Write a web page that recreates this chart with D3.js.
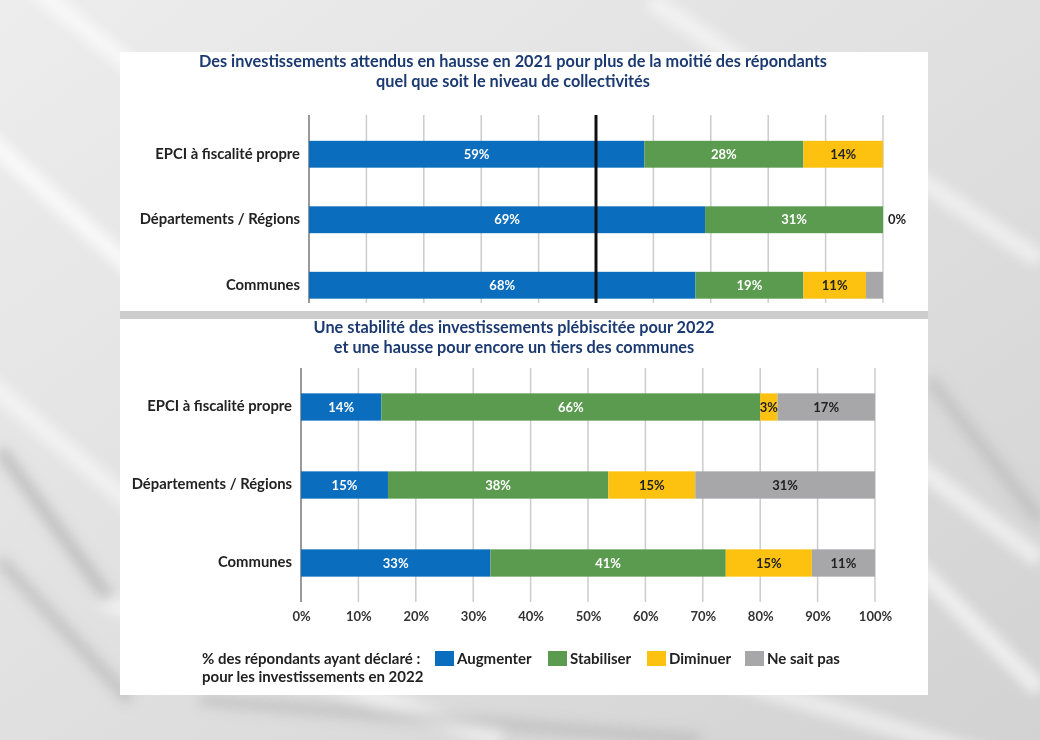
<!DOCTYPE html>
<html><head><meta charset="utf-8">
<script src="https://cdn.jsdelivr.net/npm/d3@7"></script>
<style>
html,body{margin:0;padding:0;}
body{width:1040px;height:740px;overflow:hidden;}
svg{display:block;}
</style></head>
<body>
<svg id="chart" width="1040" height="740"></svg>
<script>
// ---- DATA ----
const categories = ["EPCI à fiscalité propre", "Départements / Régions", "Communes"];
const seriesNames = ["Augmenter", "Stabiliser", "Diminuer", "Ne sait pas"];
// 2021 (top chart)
const augmenter2021 = [59, 69, 68];
const stabiliser2021 = [28, 31, 19];
const diminuer2021 = [14, 0, 11];
const nsp2021 = [0, 0, 3];
// 2022 (bottom chart)
const augmenter2022 = [14, 15, 33];
const stabiliser2022 = [66, 38, 41];
const diminuer2022 = [3, 15, 15];
const nsp2022 = [17, 31, 11];
const tickValues = [0, 10, 20, 30, 40, 50, 60, 70, 80, 90, 100];
const titleTop = ["Des investissements attendus en hausse en 2021 pour plus de la moitié des répondants", "quel que soit le niveau de collectivités"];
const titleBottom = ["Une stabilité des investissements plébiscitée pour 2022", "et une hausse pour encore un tiers des communes"];
const legendIntro = ["% des répondants ayant déclaré :", "pour les investissements en 2022"];

const colors = ["#0b6dbd", "#5a9b4f", "#fdc20f", "#a7a7a9"];
const labelColors = ["#ffffff", "#ffffff", "#222222", "#222222"];
const navy = "#1c3a72";

const svg = d3.select("#chart");

// ---- background (marble-ish) ----
const defs = svg.append("defs");
const bg = defs.append("linearGradient").attr("id","bg").attr("x1","0").attr("y1","0").attr("x2","1").attr("y2","1");
bg.append("stop").attr("offset","0%").attr("stop-color","#ededed");
bg.append("stop").attr("offset","50%").attr("stop-color","#e0e0e0");
bg.append("stop").attr("offset","100%").attr("stop-color","#d2d2d2");
defs.append("filter").attr("id","blur").append("feGaussianBlur").attr("stdDeviation", 6);
svg.append("rect").attr("width",1040).attr("height",740).attr("fill","url(#bg)");
const streaks = svg.append("g").attr("filter","url(#blur)");
const streakDefs = [[-100,60,300,420,0.7],[0,-40,420,300,0.6],[650,0,1040,260,0.5],[700,300,1040,560,0.55],[-50,350,150,520,0.5],[850,500,1040,690,0.6],[100,600,500,740,0.5],[600,640,1000,760,0.5]];
streakDefs.forEach(s=>{
  streaks.append("line").attr("x1",s[0]).attr("y1",s[1]).attr("x2",s[2]).attr("y2",s[3])
    .attr("stroke","#ffffff").attr("stroke-width",18).attr("opacity",s[4]);
});
const darks = [[0,450,110,600,0.35],[0,560,130,700,0.3],[930,380,1040,520,0.25],[200,700,700,740,0.25]];
darks.forEach(s=>{
  streaks.append("line").attr("x1",s[0]).attr("y1",s[1]).attr("x2",s[2]).attr("y2",s[3])
    .attr("stroke","#8a8a8a").attr("stroke-width",14).attr("opacity",s[4]);
});

// ---- white panel ----
svg.append("rect").attr("x",120).attr("y",52).attr("width",808).attr("height",643).attr("fill","#ffffff");
svg.append("rect").attr("x",120).attr("y",311).attr("width",808).attr("height",8).attr("fill","#cdcdcd");

const labelFont = "Lato, 'Noto Sans', sans-serif";
const titleFont = "Lato, 'Noto Sans', sans-serif";

function buildData(a,b,c,d){
  return categories.map((cat,i)=>{
    const vals=[a[i],b[i],c[i],d[i]];
    const sum=d3.sum(vals);
    let acc=0;
    return {cat, segs: vals.map((v,k)=>{const s={v,k,x0:acc/sum*100,x1:(acc+v)/sum*100}; acc+=v; return s;})};
  });
}

function drawChart(opts){
  const g = svg.append("g");
  const x = d3.scaleLinear().domain([0,100]).range([opts.left, opts.right]);
  const y = d3.scaleBand().domain(categories).range([opts.bandTop, opts.bandBottom])
    .paddingInner(opts.padding).paddingOuter(opts.padding/2);
  // titles
  opts.title.forEach((t,i)=>{
    g.append("text").attr("x",opts.titleX).attr("y",opts.titleY+i*20).attr("text-anchor","middle")
      .attr("font-family",titleFont).attr("font-weight",700).attr("font-size",16.3).attr("fill",navy).text(t);
  });
  // grid
  g.append("g").selectAll("line").data(tickValues).join("line")
    .attr("x1",d=>x(d)).attr("x2",d=>x(d)).attr("y1",opts.gridTop).attr("y2",opts.gridBottom)
    .attr("stroke", d=> d===0 ? "#777" : "#cccccc").attr("stroke-width",1.5);
  // bars
  const data = opts.data;
  const rows = g.append("g").selectAll("g").data(data).join("g");
  rows.selectAll("rect").data(d=>d.segs.map(s=>({...s,cat:d.cat}))).join("rect")
    .attr("x",d=>x(d.x0)).attr("width",d=>Math.max(0,x(d.x1)-x(d.x0)))
    .attr("y",d=>y(d.cat)).attr("height",y.bandwidth()).attr("fill",d=>colors[d.k]);
  // value labels
  rows.selectAll("text").data(d=>d.segs.map(s=>({...s,cat:d.cat})).filter(s=>opts.showLabel(s))).join("text")
    .attr("x",d=> d.v===0 ? x(100)+5 : x((d.x0+d.x1)/2))
    .attr("text-anchor",d=> d.v===0 ? "start" : "middle")
    .attr("y",d=>y(d.cat)+y.bandwidth()/2).attr("dy","0.36em")
    .attr("font-family",labelFont).attr("font-weight",700).attr("font-size",13)
    .attr("fill",d=> d.v===0 ? "#222" : labelColors[d.k]).text(d=>d.v+"%");
  // category labels
  g.append("g").selectAll("text").data(categories).join("text")
    .attr("x",opts.left-9).attr("y",d=>y(d)+y.bandwidth()/2 - 1).attr("dy","0.36em").attr("text-anchor","end")
    .attr("font-family",labelFont).attr("font-weight",700).attr("font-size",14.8).attr("fill","#222").text(d=>d);
  if(opts.midLine){
    g.append("line").attr("x1",x(50)).attr("x2",x(50)).attr("y1",opts.gridTop).attr("y2",opts.gridBottom)
      .attr("stroke","#111").attr("stroke-width",3);
  }
  if(opts.axis){
    const ax = d3.axisBottom(x).tickValues(tickValues).tickFormat(d=>d+"%").tickSize(0).tickPadding(0);
    const axg = g.append("g").attr("transform",`translate(0,${opts.axisY})`).call(ax);
    axg.select(".domain").remove();
    axg.selectAll("text").attr("font-family",labelFont).attr("font-weight",700).attr("font-size",13).attr("fill","#333");
  }
  return {x,y};
}

drawChart({
  data: buildData(augmenter2021, stabiliser2021, diminuer2021, nsp2021),
  left: 309, right: 883, bandTop: 121.5, bandBottom: 318, padding: 0.59,
  gridTop: 115, gridBottom: 303, title: titleTop, titleX: 513, titleY: 67,
  midLine: true, axis: false,
  showLabel: s => (s.k<3 && s.v>0) || (s.k===2 && s.v===0)
});

drawChart({
  data: buildData(augmenter2022, stabiliser2022, diminuer2022, nsp2022),
  left: 301, right: 875, bandTop: 368, bandBottom: 602, padding: 0.65,
  gridTop: 368, gridBottom: 602, title: titleBottom, titleX: 514, titleY: 333,
  midLine: false, axis: true, axisY: 612,
  showLabel: s => s.v>0
});

// ---- legend ----
const lg = svg.append("g");
legendIntro.forEach((t,i)=>{
  lg.append("text").attr("x",202).attr("y",664+i*18).attr("font-family",labelFont).attr("font-weight",700)
    .attr("font-size",15).attr("fill","#222").text(t);
});
const legendX = [435, 548, 647, 745];
const items = lg.selectAll("g.item").data(seriesNames).join("g").attr("class","item")
  .attr("transform",(d,i)=>`translate(${legendX[i]},651)`);
items.append("rect").attr("width",19).attr("height",15).attr("fill",(d,i)=>colors[i]);
items.append("text").attr("x",22).attr("y",13).attr("font-family",labelFont).attr("font-weight",700)
  .attr("font-size",15).attr("fill","#222").text(d=>d);
</script>
</body></html>
